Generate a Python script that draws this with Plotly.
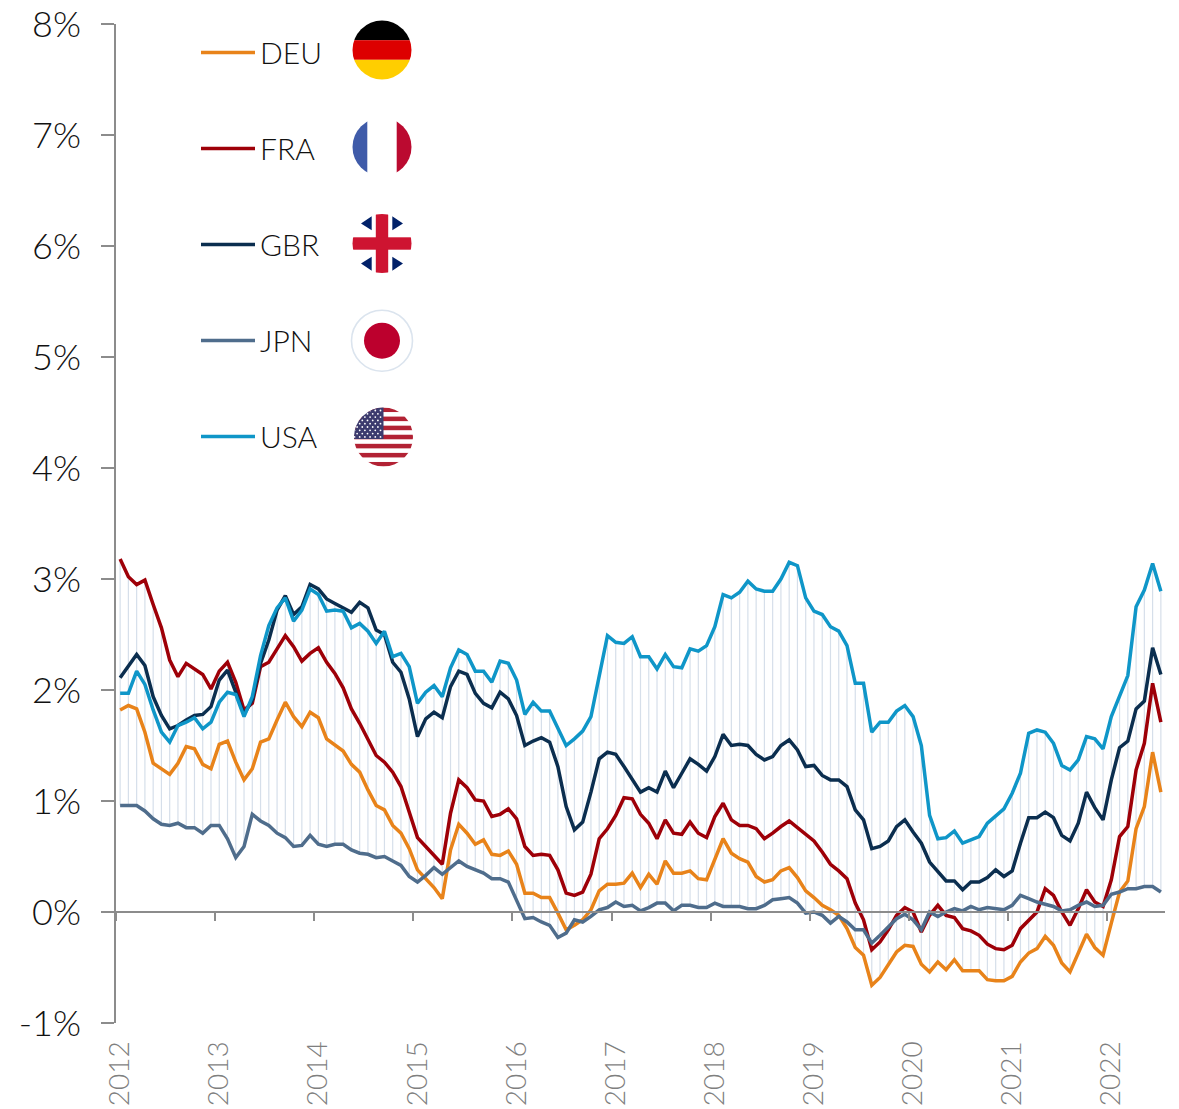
import base64
import plotly.graph_objects as go

years = [str(y) for y in range(2012, 2023)]
y_ticks = [-1, 0, 1, 2, 3, 4, 5, 6, 7, 8]
y_labels = ["-1%", "0%", "1%", "2%", "3%", "4%", "5%", "6%", "7%", "8%"]

DEU = [1.82,1.86,1.83,1.62,1.34,1.29,1.24,1.34,1.49,1.47,1.33,1.29,1.51,1.54,1.35,1.19,1.29,1.53,1.56,1.73,1.89,1.76,1.67,1.80,1.75,1.56,1.50,1.45,1.33,1.26,1.10,0.96,0.92,0.78,0.71,0.57,0.38,0.30,0.22,0.12,0.56,0.79,0.71,0.61,0.65,0.52,0.51,0.55,0.43,0.17,0.17,0.13,0.13,-0.01,-0.16,-0.12,-0.07,0.02,0.19,0.25,0.25,0.26,0.35,0.22,0.34,0.25,0.46,0.35,0.35,0.37,0.30,0.29,0.48,0.66,0.53,0.48,0.45,0.32,0.27,0.29,0.37,0.40,0.31,0.19,0.13,0.06,0.02,-0.03,-0.15,-0.32,-0.39,-0.66,-0.59,-0.47,-0.36,-0.30,-0.31,-0.47,-0.54,-0.45,-0.52,-0.43,-0.53,-0.53,-0.53,-0.61,-0.62,-0.62,-0.58,-0.45,-0.37,-0.33,-0.22,-0.30,-0.46,-0.54,-0.37,-0.20,-0.32,-0.39,-0.10,0.18,0.28,0.75,0.95,1.44,1.08]
FRA = [3.18,3.02,2.95,2.99,2.77,2.56,2.27,2.12,2.24,2.19,2.14,2.01,2.17,2.25,2.07,1.82,1.88,2.21,2.25,2.37,2.49,2.39,2.26,2.33,2.38,2.25,2.15,2.02,1.83,1.70,1.56,1.41,1.35,1.26,1.13,0.91,0.67,0.59,0.51,0.43,0.89,1.19,1.12,1.01,1.00,0.86,0.88,0.93,0.84,0.59,0.51,0.52,0.51,0.38,0.17,0.15,0.18,0.34,0.66,0.75,0.87,1.03,1.02,0.88,0.80,0.66,0.83,0.71,0.70,0.81,0.71,0.67,0.86,0.98,0.83,0.78,0.78,0.75,0.66,0.71,0.77,0.82,0.76,0.70,0.64,0.54,0.43,0.37,0.30,0.08,-0.07,-0.34,-0.27,-0.16,-0.03,0.04,0.00,-0.18,-0.03,0.06,-0.03,-0.05,-0.15,-0.17,-0.21,-0.29,-0.33,-0.34,-0.30,-0.15,-0.07,0.00,0.21,0.15,0.00,-0.12,0.03,0.20,0.09,0.05,0.29,0.68,0.77,1.28,1.52,2.06,1.71]
GBR = [2.11,2.22,2.32,2.22,1.94,1.77,1.65,1.68,1.73,1.77,1.78,1.85,2.09,2.18,1.98,1.78,1.91,2.24,2.45,2.72,2.85,2.68,2.75,2.95,2.91,2.82,2.78,2.74,2.70,2.79,2.74,2.54,2.50,2.25,2.16,1.92,1.58,1.74,1.80,1.75,2.03,2.17,2.14,1.97,1.88,1.84,1.98,1.92,1.77,1.50,1.54,1.57,1.53,1.31,0.95,0.74,0.81,1.08,1.38,1.44,1.42,1.31,1.19,1.08,1.12,1.08,1.27,1.12,1.25,1.38,1.33,1.27,1.40,1.60,1.50,1.51,1.50,1.42,1.37,1.40,1.50,1.55,1.46,1.31,1.32,1.23,1.19,1.19,1.13,0.92,0.83,0.57,0.59,0.64,0.77,0.83,0.72,0.62,0.45,0.36,0.28,0.28,0.20,0.27,0.27,0.31,0.38,0.32,0.37,0.62,0.85,0.85,0.90,0.85,0.69,0.64,0.80,1.08,0.94,0.83,1.19,1.48,1.54,1.83,1.90,2.38,2.14]
JPN = [0.96,0.96,0.96,0.91,0.84,0.79,0.78,0.80,0.76,0.76,0.71,0.78,0.78,0.66,0.49,0.59,0.88,0.82,0.78,0.71,0.67,0.59,0.60,0.69,0.61,0.59,0.61,0.61,0.56,0.53,0.52,0.49,0.50,0.46,0.42,0.32,0.27,0.33,0.40,0.34,0.40,0.46,0.41,0.38,0.35,0.30,0.30,0.27,0.11,-0.06,-0.05,-0.09,-0.12,-0.23,-0.19,-0.07,-0.09,-0.04,0.02,0.04,0.09,0.05,0.06,0.01,0.04,0.08,0.08,0.01,0.06,0.06,0.04,0.04,0.08,0.05,0.05,0.05,0.03,0.03,0.06,0.11,0.12,0.13,0.08,-0.01,0.00,-0.03,-0.10,-0.04,-0.09,-0.16,-0.16,-0.28,-0.21,-0.13,-0.06,-0.02,-0.07,-0.16,0.00,-0.04,0.00,0.03,0.01,0.05,0.02,0.04,0.03,0.02,0.06,0.15,0.12,0.09,0.07,0.05,0.01,0.02,0.06,0.09,0.05,0.06,0.16,0.18,0.21,0.21,0.23,0.23,0.18]
USA = [1.97,1.97,2.17,2.05,1.82,1.62,1.53,1.68,1.71,1.75,1.65,1.71,1.89,1.98,1.96,1.76,1.94,2.31,2.58,2.74,2.83,2.62,2.72,2.91,2.86,2.71,2.72,2.71,2.56,2.60,2.53,2.42,2.53,2.30,2.33,2.21,1.88,1.98,2.04,1.94,2.20,2.36,2.32,2.17,2.17,2.07,2.26,2.24,2.09,1.78,1.89,1.81,1.81,1.65,1.50,1.56,1.63,1.76,2.12,2.49,2.43,2.42,2.48,2.30,2.30,2.19,2.32,2.21,2.20,2.37,2.35,2.40,2.57,2.86,2.83,2.88,2.98,2.91,2.89,2.89,3.00,3.15,3.12,2.83,2.71,2.68,2.57,2.53,2.40,2.06,2.06,1.62,1.71,1.71,1.81,1.86,1.76,1.50,0.87,0.66,0.67,0.73,0.62,0.65,0.68,0.80,0.87,0.93,1.07,1.25,1.61,1.64,1.62,1.52,1.32,1.28,1.37,1.58,1.56,1.47,1.76,1.94,2.13,2.75,2.90,3.14,2.89]

series = [("DEU", DEU, "#E8831A"), ("FRA", FRA, "#9E0008"),
          ("GBR", GBR, "#0B2E4F"), ("JPN", JPN, "#4F6D8C"),
          ("USA", USA, "#0F96C8")]
months = list(range(len(USA)))
FONT = "Lato"
W, H = 1179, 1109
L, R, T, B = 116, 14, 24, 86
PW, PH = W - L - R, H - T - B

# High-low connector lines, computed from the series
hx, hy = [], []
for i in months:
    vals = [s[1][i] for s in series]
    hx += [i, i, None]
    hy += [min(vals), max(vals), None]

fig = go.Figure()
fig.add_trace(go.Scatter(x=hx, y=hy, mode="lines", xaxis="x", yaxis="y",
                         line=dict(color="#D6DFEA", width=1.2), showlegend=False, hoverinfo="skip"))
for name, vals, col in series:
    fig.add_trace(go.Scatter(x=months, y=vals, mode="lines", name=name, xaxis="x2", yaxis="y",
                             legendgroup=name, line=dict(color=col, width=3.5, shape="linear")))


def svg(body, size=64):
    s = (f'<svg xmlns="http://www.w3.org/2000/svg" width="{size}" height="{size}" viewBox="-32 -32 64 64">'
         f'<defs><clipPath id="c"><circle r="29.5"/></clipPath></defs>{body}</svg>')
    return "data:image/svg+xml;base64," + base64.b64encode(s.encode()).decode()


de = ('<g clip-path="url(#c)"><rect x="-32" y="-32" width="64" height="22.2" fill="#000"/>'
      '<rect x="-32" y="-9.8" width="64" height="19.6" fill="#DD0000"/>'
      '<rect x="-32" y="9.8" width="64" height="22" fill="#FFCE00"/></g>')
fr = ('<g clip-path="url(#c)"><rect x="-32" y="-32" width="17.3" height="64" fill="#3F5BA9"/>'
      '<rect x="14.7" y="-32" width="18" height="64" fill="#BB0A30"/></g>')
tri = "".join(f'<polygon points="{sx*10.3},{sy*27.3} {sx*10.3},{sy*13.3} {sx*21},{sy*20}" fill="#012169"/>'
              for sx in (-1, 1) for sy in (-1, 1))
gb = (f'<g clip-path="url(#c)">{tri}<rect x="-6.2" y="-32" width="12.4" height="64" fill="#CE1431"/>'
      '<rect x="-32" y="-6.2" width="64" height="12.4" fill="#CE1431"/></g>')
jp = ('<circle r="30.5" fill="#fff" stroke="#DBE4EE" stroke-width="1.6"/>'
      '<circle r="18" fill="#BC002D"/>')
stripes = "".join(f'<rect x="-32" y="{-29.5 + k * 4.54:.2f}" width="64" height="4.54" fill="#B22234"/>'
                  for k in range(0, 13, 2))
stars = "".join(f'<circle cx="{-29 + c * 5.2 + (r % 2) * 2.6:.1f}" cy="{-26.5 + r * 3.3:.1f}" r="0.9" fill="#fff"/>'
                for r in range(9) for c in range(6 - (r % 2)))
us = (f'<g clip-path="url(#c)">{stripes}<rect x="-32" y="-30" width="32" height="32" fill="#3C3B6E"/>{stars}</g>')

flags = [(de, 382, 50), (fr, 382, 147), (gb, 382, 243.5), (jp, 382, 340.7), (us, 383.5, 437)]
images = [dict(source=svg(b), xref="paper", yref="paper", x=(cx - 32 - L) / PW, y=1 - (cy - 32 - T) / PH,
               sizex=64 / PW, sizey=64 / PH, xanchor="left", yanchor="top", sizing="stretch", layer="above")
          for b, cx, cy in flags]

fig.update_layout(
    width=W, height=H, margin=dict(l=L, r=R, t=T, b=B, autoexpand=False), autosize=False,
    paper_bgcolor="white", plot_bgcolor="white",
    font=dict(family=FONT, color="#111111"),
    images=images,
    showlegend=True,
    legend=dict(x=(196 - L) / PW, y=1 - (26.5 - T) / PH, xanchor="left", yanchor="top",
                bgcolor="rgba(0,0,0,0)", borderwidth=0, itemwidth=54, tracegroupgap=54,
                font=dict(family=FONT, size=30, color="#111111", weight=300)),
    xaxis=dict(range=[-0.5, 126.5], tickmode="array", tickvals=[12 * i for i in range(len(years))],
               ticktext=years, tickangle=-90, ticks="outside", ticklen=6, tickcolor="rgba(0,0,0,0)",
               showline=False, showgrid=False, zeroline=False, automargin=False,
               tickfont=dict(family=FONT, size=28, color="#7F7F7F", weight=300)),
    xaxis2=dict(range=[-0.5, 126.5], overlaying="x", anchor="free", position=1 / 9, side="bottom",
                tickmode="array", tickvals=[12 * i - 0.5 for i in range(len(years))], ticktext=[""] * len(years),
                ticks="outside", ticklen=8, tickcolor="#8C8C8C", tickwidth=1.5, automargin=False,
                showline=True, linecolor="#8C8C8C", linewidth=1.5, showgrid=False, zeroline=False),
    yaxis=dict(range=[-1, 8], tickmode="array", tickvals=y_ticks, ticktext=y_labels,
               ticks="outside", ticklen=13, tickcolor="#8C8C8C", tickwidth=1.5, automargin=False,
               showline=True, linecolor="#8C8C8C", linewidth=1.5, showgrid=False, zeroline=False,
               ticklabelstandoff=13,
               tickfont=dict(family=FONT, size=36, color="#111111", weight=300)),
)

fig.write_html("out.html", config={"displayModeBar": False},
               post_script="document.body.style.margin='0';")
